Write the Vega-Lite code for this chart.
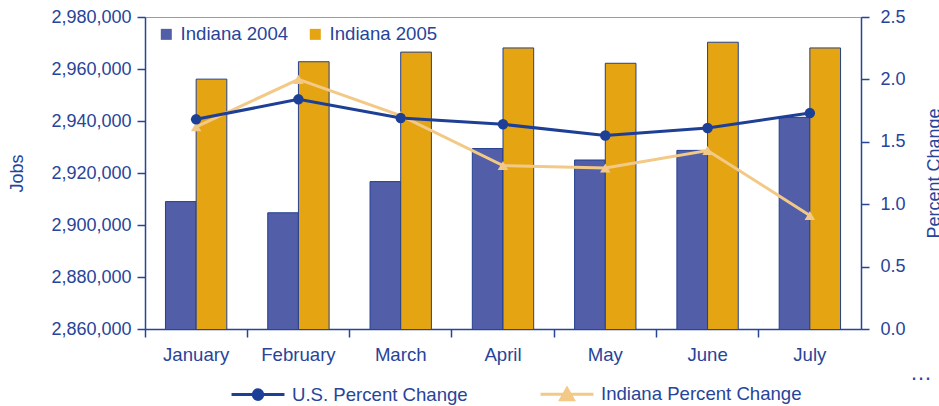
{
  "$schema": "https://vega.github.io/schema/vega-lite/v6.json",
  "width": 716,
  "height": 312,
  "autosize": {"type": "none"},
  "padding": {"left": 145, "top": 17, "right": 78, "bottom": 77},
  "background": "white",
  "title": {
    "text": "…", "orient": "bottom", "anchor": "end", "frame": "group",
    "fontSize": 22, "fontWeight": "normal", "color": "#27449A", "font": "Liberation Sans",
    "dx": 71, "dy": -43, "offset": 0
  },
  "config": {
    "font": "Liberation Sans",
    "view": {"stroke": "#8D9BCB", "strokeWidth": 1},
    "axis": {
      "domainColor": "#27449A", "domainWidth": 1.5, "tickColor": "#27449A", "tickWidth": 1.5,
      "labelColor": "#27449A", "titleColor": "#27449A", "labelFontSize": 18, "titleFontSize": 18,
      "titleFontWeight": "normal", "grid": false, "labelFont": "Liberation Sans", "titleFont": "Liberation Sans"
    },
    "legend": {"labelFontSize": 18.6, "labelColor": "#27449A", "labelFont": "Liberation Sans", "padding": 0, "labelLimit": 0}
  },
  "layer": [
    {
      "data": {"values": [
        {"month": "January", "year": "Indiana 2004", "jobs": 2909000},
        {"month": "January", "year": "Indiana 2005", "jobs": 2956100},
        {"month": "February", "year": "Indiana 2004", "jobs": 2904700},
        {"month": "February", "year": "Indiana 2005", "jobs": 2962800},
        {"month": "March", "year": "Indiana 2004", "jobs": 2916700},
        {"month": "March", "year": "Indiana 2005", "jobs": 2966500},
        {"month": "April", "year": "Indiana 2004", "jobs": 2929400},
        {"month": "April", "year": "Indiana 2005", "jobs": 2968100},
        {"month": "May", "year": "Indiana 2004", "jobs": 2925000},
        {"month": "May", "year": "Indiana 2005", "jobs": 2962200},
        {"month": "June", "year": "Indiana 2004", "jobs": 2928700},
        {"month": "June", "year": "Indiana 2005", "jobs": 2970300},
        {"month": "July", "year": "Indiana 2004", "jobs": 2941400},
        {"month": "July", "year": "Indiana 2005", "jobs": 2968100}
      ]},
      "mark": {"type": "bar", "stroke": "#23408F", "strokeWidth": 1, "clip": true},
      "encoding": {
        "x": {
          "field": "month", "type": "nominal",
          "sort": ["January", "February", "March", "April", "May", "June", "July"],
          "scale": {"paddingInner": 0, "paddingOuter": 0},
          "axis": {
            "title": null, "labelAngle": 0, "bandPosition": 0, "tickSize": 8, "labelPadding": 8,
            "labelFontSize": 18.6,
            "encode": {"ticks": {"y": {"value": -7}}}
          }
        },
        "xOffset": {
          "field": "year", "type": "nominal",
          "scale": {"paddingInner": 0, "paddingOuter": 0.667}
        },
        "y": {
          "field": "jobs", "type": "quantitative",
          "scale": {"domain": [2860000, 2980000], "nice": false, "zero": false},
          "axis": {
            "title": "Jobs", "values": [2860000, 2880000, 2900000, 2920000, 2940000, 2960000, 2980000],
            "format": ",d", "tickSize": 8, "labelPadding": 6, "titlePadding": 24,
            "encode": {"ticks": {"x": {"value": 8}}}
          }
        },
        "color": {
          "field": "year", "type": "nominal",
          "scale": {"domain": ["Indiana 2004", "Indiana 2005"], "range": ["#525EA8", "#E5A512"]},
          "legend": {
            "title": null, "orient": "none", "legendX": 12, "legendY": 8, "direction": "horizontal",
            "symbolType": "square", "symbolSize": 121, "symbolStrokeWidth": 0,
            "columnPadding": 17, "labelOffset": 5
          }
        }
      }
    },
    {
      "data": {"values": [
        {"month": "January", "series": "Indiana Percent Change", "pct": 1.62},
        {"month": "February", "series": "Indiana Percent Change", "pct": 2.0},
        {"month": "March", "series": "Indiana Percent Change", "pct": 1.71},
        {"month": "April", "series": "Indiana Percent Change", "pct": 1.31},
        {"month": "May", "series": "Indiana Percent Change", "pct": 1.29},
        {"month": "June", "series": "Indiana Percent Change", "pct": 1.43},
        {"month": "July", "series": "Indiana Percent Change", "pct": 0.91},
        {"month": "January", "series": "U.S. Percent Change", "pct": 1.68},
        {"month": "February", "series": "U.S. Percent Change", "pct": 1.84},
        {"month": "March", "series": "U.S. Percent Change", "pct": 1.69},
        {"month": "April", "series": "U.S. Percent Change", "pct": 1.64},
        {"month": "May", "series": "U.S. Percent Change", "pct": 1.55},
        {"month": "June", "series": "U.S. Percent Change", "pct": 1.61},
        {"month": "July", "series": "U.S. Percent Change", "pct": 1.73}
      ]},
      "encoding": {
        "x": {
          "field": "month", "type": "nominal",
          "sort": ["January", "February", "March", "April", "May", "June", "July"]
        },
        "y": {
          "field": "pct", "type": "quantitative",
          "scale": {"domain": [0, 2.5], "nice": false},
          "axis": {
            "orient": "right", "title": "Percent Change", "titleAngle": -90,
            "values": [0, 0.5, 1, 1.5, 2, 2.5], "format": ".1f",
            "tickSize": 8, "labelPadding": 11, "titlePadding": 38,
            "encode": {"ticks": {"x": {"value": -8}}}
          }
        },
        "color": {
          "field": "series", "type": "nominal",
          "scale": {"domain": ["U.S. Percent Change", "Indiana Percent Change"], "range": ["#1E3F96", "#F3C987"]},
          "legend": {
            "title": null, "orient": "none", "legendX": 85, "legendY": 349, "direction": "horizontal",
            "symbolSize": 2800, "symbolStrokeWidth": 3, "columnPadding": 66, "labelOffset": 6,
            "symbolOpacity": 1,
            "symbolType": {"expr": "datum.value === 'U.S. Percent Change' ? 'M-1,0H1M-0.18,0A0.18,0.18 0 1,1 0.18,0A0.18,0.18 0 1,1 -0.18,0Z' : 'M-1,0H1M0,-0.22L0.24,0.2L-0.24,0.2Z'"},
            "symbolFillColor": {"expr": "datum.value === 'U.S. Percent Change' ? '#1E3F96' : '#F3C987'"},
            "symbolStrokeColor": {"expr": "datum.value === 'U.S. Percent Change' ? '#1E3F96' : '#F3C987'"}
          }
        }
      },
      "layer": [
        {"mark": {"type": "line", "strokeWidth": 3}},
        {
          "mark": {"type": "point", "filled": true, "opacity": 1, "size": 110},
          "encoding": {
            "shape": {
              "field": "series", "type": "nominal",
              "scale": {"domain": ["U.S. Percent Change", "Indiana Percent Change"], "range": ["circle", "triangle-up"]},
              "legend": null
            }
          }
        }
      ]
    }
  ],
  "resolve": {"scale": {"y": "independent", "color": "independent"}}
}
